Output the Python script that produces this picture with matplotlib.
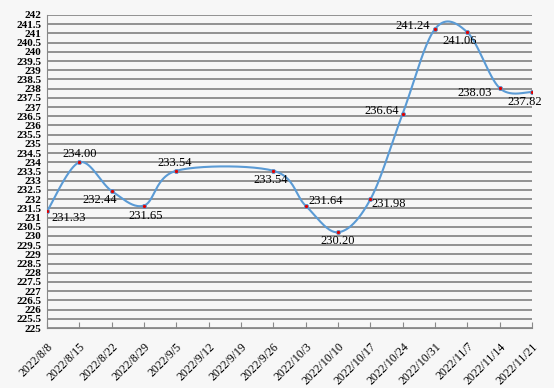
import numpy as np
import matplotlib.pyplot as plt

dates = ["2022/8/8", "2022/8/15", "2022/8/22", "2022/8/29", "2022/9/5", "2022/9/12",
         "2022/9/19", "2022/9/26", "2022/10/3", "2022/10/10", "2022/10/17", "2022/10/24",
         "2022/10/31", "2022/11/7", "2022/11/14", "2022/11/21"]
prices = [231.33, 234.00, 232.44, 231.65, 233.54, None,
          None, 233.54, 231.64, 230.20, 231.98, 236.64,
          241.24, 241.06, 238.03, 237.82]

# label offsets in pixels (dx, dy, ha)
offsets = [(4, -7, "left"), (0, 8, "center"), (-12, -9, "center"), (2, -10, "center"),
           (-2, 8, "center"), None, None, (-3, -9, "center"), (3, 5, "left"),
           (0, -9, "center"), (1, -5, "left"), (-4, 3, "right"), (-5, 3, "right"),
           (-8, -9, "center"), (-8, -5, "right"), (-7, -10, "center")]

xs = np.array([i for i, v in enumerate(prices) if v is not None], dtype=float)
ys = np.array([v for v in prices if v is not None], dtype=float)

# smooth line like a spreadsheet chart (catmull-rom through the points)
pts = np.column_stack([xs, ys])
ext = np.vstack([pts[0], pts, pts[-1]])
curve = []
for i in range(len(pts) - 1):
    p0, p1, p2, p3 = ext[i], ext[i + 1], ext[i + 2], ext[i + 3]
    m1 = (p2 - p0) / 2
    m2 = (p3 - p1) / 2
    t = np.linspace(0, 1, 40)[:, None]
    h00 = 2 * t**3 - 3 * t**2 + 1
    h10 = t**3 - 2 * t**2 + t
    h01 = -2 * t**3 + 3 * t**2
    h11 = t**3 - t**2
    curve.append(h00 * p1 + h10 * m1 + h01 * p2 + h11 * m2)
curve = np.vstack(curve)

plt.rcParams['font.family'] = ['Liberation Serif', 'DejaVu Serif']
fig = plt.figure(figsize=(5.54, 3.88), dpi=100, facecolor='#f7f7f7')
ax = fig.add_axes([47 / 554, 1 - 328 / 388, 485 / 554, 313 / 388])
ax.set_facecolor('#f7f7f7')

ax.plot(curve[:, 0], curve[:, 1], color='#5b9bd5', lw=1.5, zorder=3)
ax.plot(xs, ys, 'o', ms=3, mfc='#e00000', mec='#5b9bd5', mew=0.6, zorder=4)

for i, v in enumerate(prices):
    if v is None:
        continue
    dx, dy, ha = offsets[i]
    ax.annotate(f"{v:.2f}", (i, v), xytext=(dx, dy), textcoords='offset pixels',
                ha=ha, va='center', fontsize=9, zorder=5)

ax.set_xlim(0, len(dates) - 1)
ax.set_ylim(225, 242)
ax.set_yticks(np.arange(225, 242.01, 0.5))
ax.set_yticklabels([f"{v:g}" for v in np.arange(225, 242.01, 0.5)], fontsize=8, fontweight='bold')
ax.set_xticks(range(len(dates)))
ax.set_xticklabels(dates, rotation=45, ha='right', rotation_mode='anchor', fontsize=8.5)
ax.tick_params(axis='y', length=0, pad=4)
ax.tick_params(axis='x', direction='in', length=4, color='#888888', pad=9)
ax.yaxis.grid(True, color='#8a8a8a', lw=1.3)
ax.set_axisbelow(True)
for s in ['top', 'right']:
    ax.spines[s].set_visible(False)
for s in ['left', 'bottom']:
    ax.spines[s].set_color('#888888')

plt.savefig('out.png', dpi=100, facecolor=fig.get_facecolor())
